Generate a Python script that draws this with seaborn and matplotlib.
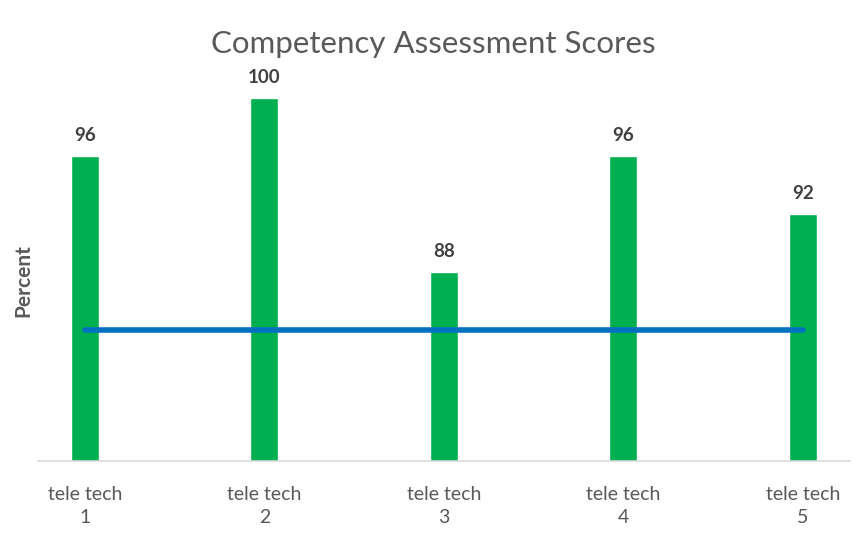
import numpy as np
import pandas as pd
import seaborn as sns
import matplotlib.pyplot as plt

techs = ['tele tech\n1', 'tele tech\n2', 'tele tech\n3', 'tele tech\n4', 'tele tech\n5']
scores = [96, 100, 88, 96, 92]
target = [84, 84, 84, 84, 84]

df = pd.DataFrame({'tech': techs, 'score': scores, 'target': target})

sns.set_style('white')
plt.rcParams['font.family'] = ['Lato', 'DejaVu Sans']

fig = plt.figure(figsize=(8.66, 5.44), dpi=100)
ax = fig.add_axes([0.044, 0.1526, 0.937, 0.72])

sns.barplot(data=df, x='tech', y='score', color='#00B050', width=0.155,
            saturation=1, ax=ax)
ax.plot(np.arange(len(techs)), df['target'], color='#0070C0', lw=4,
        solid_capstyle='round', zorder=3)

for i, v in enumerate(scores):
    ax.annotate(str(v), (i, v), xytext=(0, 9), textcoords='offset points',
                ha='center', va='bottom', fontsize=13.5, fontweight='bold',
                color='#404040')

ax.set_ylim(75, 102)
ax.set_xlim(-0.26, 4.26)
ax.set_yticks([])
ax.set_xlabel('')
ax.set_ylabel('Percent', fontsize=15, fontweight='bold', color='#595959')
ax.yaxis.set_label_coords(-0.006, 0.46)
ax.tick_params(axis='x', length=0, pad=18, labelsize=14, labelcolor='#595959')
for lbl in ax.get_xticklabels():
    lbl.set_linespacing(1.45)
for s in ['top', 'right', 'left']:
    ax.spines[s].set_visible(False)
ax.spines['bottom'].set_color('#D9D9D9')
ax.spines['bottom'].set_linewidth(1.2)

fig.suptitle('Competency Assessment Scores', y=0.945, fontsize=22.5,
             color='#595959')

fig.savefig('out.png', dpi=100)
